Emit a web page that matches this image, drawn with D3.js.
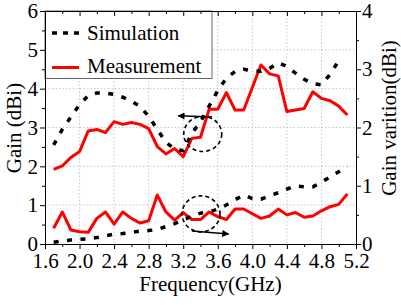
<!DOCTYPE html>
<html><head><meta charset="utf-8">
<script src="https://cdn.jsdelivr.net/npm/d3@7"></script>
<style>
html,body{margin:0;padding:0;background:#fff;}
svg{display:block;font-family:"Liberation Serif","Times New Roman",serif;}
</style></head>
<body>
<svg id="chart" width="401" height="305"></svg>
<script>
// ---- data ----
const freq = [1.7,1.8,1.9,2.0,2.1,2.2,2.3,2.4,2.5,2.6,2.7,2.8,2.9,3.0,3.1,3.2,3.3,3.4,3.5,3.6,3.7,3.8,3.9,4.0,4.1,4.2,4.3,4.4,4.5,4.6,4.7,4.8,4.9,5.0,5.1];
const measGain = [1.92,2.01,2.23,2.38,2.91,2.95,2.87,3.15,3.08,3.13,3.08,2.97,2.51,2.32,2.46,2.25,2.72,2.75,3.47,3.47,3.90,3.45,3.45,4.03,4.61,4.38,4.33,3.41,3.45,3.49,3.92,3.75,3.69,3.55,3.32];
const simFreq = [1.7,1.8,1.9,2.0,2.1,2.2,2.3,2.4,2.5,2.6,2.7,2.8,2.9,3.0,3.1,3.2,3.3,3.4,3.5,3.6,3.7,3.8,3.9,4.0,4.1,4.2,4.3,4.4,4.5,4.6,4.7,4.8,4.9,5.0];
const simGain = [2.55,2.95,3.27,3.59,3.82,3.89,3.89,3.85,3.78,3.68,3.54,3.29,2.95,2.62,2.45,2.40,2.85,3.15,3.55,3.95,4.27,4.44,4.50,4.46,4.45,4.52,4.67,4.57,4.40,4.24,4.13,4.10,4.37,4.72];
const measVar = [0.27,0.55,0.24,0.21,0.20,0.44,0.55,0.34,0.55,0.44,0.36,0.40,0.84,0.55,0.41,0.54,0.42,0.42,0.55,0.47,0.42,0.60,0.60,0.52,0.44,0.48,0.60,0.50,0.54,0.46,0.48,0.57,0.64,0.68,0.86];
const simVar = [0.03,0.05,0.07,0.08,0.09,0.11,0.14,0.17,0.18,0.20,0.22,0.23,0.25,0.30,0.35,0.41,0.48,0.53,0.55,0.60,0.67,0.76,0.84,0.78,0.77,0.83,0.88,0.94,1.00,0.98,0.98,1.06,1.15,1.24,1.33];
const xTicks = [1.6,2.0,2.4,2.8,3.2,3.6,4.0,4.4,4.8,5.2];
const xMinor = [1.8,2.2,2.6,3.0,3.4,3.8,4.2,4.6,5.0];
const yLeftTicks = [0,1,2,3,4,5,6];
const yLeftMinor = [0.5,1.5,2.5,3.5,4.5,5.5];
const yRightTicks = [0,1,2,3,4];
const yRightMinor = [0.5,1.5,2.5,3.5];
const legendLabels = ["Simulation","Measurement"];

// ---- layout ----
const svg = d3.select("#chart");
const L = 45, R = 356, T = 11, B = 244;
const x = d3.scaleLinear().domain([1.6,5.2]).range([L,R]);
const yL = d3.scaleLinear().domain([0,6]).range([B,T]);
const yR = d3.scaleLinear().domain([0,4]).range([B,T]);
const FS = 21;

// grid
const grid = svg.append("g").attr("stroke","#c8c8c8").attr("stroke-width",1).attr("stroke-dasharray","1.5,2");
xTicks.slice(1,-1).forEach(v=>grid.append("line").attr("x1",x(v)).attr("x2",x(v)).attr("y1",T).attr("y2",B));
yLeftTicks.slice(1,-1).forEach(v=>grid.append("line").attr("x1",L).attr("x2",R).attr("y1",yL(v)).attr("y2",yL(v)));

// legend box
svg.append("rect").attr("x",L).attr("y",T).attr("width",167).attr("height",67.5)
  .attr("fill","#fff").attr("stroke","#666").attr("stroke-width",1);

// axes
function styleAxis(g){ g.selectAll("path").attr("stroke","#000"); g.selectAll("line").attr("stroke","#000");
  g.selectAll("text").attr("font-size",FS).attr("font-family",'"Liberation Serif","Times New Roman",serif').attr("fill","#000"); }
svg.append("g").attr("transform",`translate(0,${B})`)
  .call(d3.axisBottom(x).tickValues(xTicks).tickSize(5).tickPadding(4).tickFormat(d3.format(".1f")).tickSizeOuter(0)).call(styleAxis);
svg.append("g").attr("transform",`translate(0,${B})`)
  .call(d3.axisBottom(x).tickValues(xMinor).tickSize(3).tickFormat("").tickSizeOuter(0)).call(styleAxis);
svg.append("g").attr("transform",`translate(0,${T})`)
  .call(d3.axisBottom(x).tickValues(xTicks).tickSize(5).tickFormat("").tickSizeOuter(0)).call(styleAxis);
svg.append("g").attr("transform",`translate(0,${T})`)
  .call(d3.axisBottom(x).tickValues(xMinor).tickSize(3).tickFormat("").tickSizeOuter(0)).call(styleAxis);
svg.append("g").attr("transform",`translate(${L},0)`)
  .call(d3.axisLeft(yL).tickValues(yLeftTicks).tickSize(5).tickPadding(2).tickFormat(d3.format("d")).tickSizeOuter(0)).call(styleAxis);
svg.append("g").attr("transform",`translate(${L},0)`)
  .call(d3.axisLeft(yL).tickValues(yLeftMinor).tickSize(3).tickFormat("").tickSizeOuter(0)).call(styleAxis);
svg.append("g").attr("transform",`translate(${R},0)`)
  .call(d3.axisRight(yR).tickValues(yRightTicks).tickSize(5).tickPadding(1).tickFormat(d3.format("d")).tickSizeOuter(0)).call(styleAxis);
svg.append("g").attr("transform",`translate(${R},0)`)
  .call(d3.axisRight(yR).tickValues(yRightMinor).tickSize(3).tickFormat("").tickSizeOuter(0)).call(styleAxis);

// axis titles
svg.append("text").attr("x",(L+R)/2+10).attr("y",291).attr("text-anchor","middle").attr("font-size",FS).text("Frequency(GHz)");
svg.append("text").attr("transform","translate(21,128) rotate(-90)").attr("text-anchor","middle").attr("font-size",FS).text("Gain (dBi)");
svg.append("text").attr("transform","translate(396,118) rotate(-90)").attr("text-anchor","middle").attr("font-size",FS).text("Gain varition(dBi)");

// lines
const RED = "#ff0000";
const simDash = "5,8.5";
const lineL = d3.line().x(d=>x(d[0])).y(d=>yL(d[1]));
const lineR = d3.line().x(d=>x(d[0])).y(d=>yR(d[1]));
svg.append("path").datum(freq.map((f,i)=>[f,measGain[i]])).attr("d",lineL)
  .attr("fill","none").attr("stroke",RED).attr("stroke-width",3).attr("stroke-linejoin","round");
svg.append("path").datum(freq.map((f,i)=>[f,measVar[i]])).attr("d",lineR)
  .attr("fill","none").attr("stroke",RED).attr("stroke-width",3).attr("stroke-linejoin","round");
svg.append("path").datum(simFreq.map((f,i)=>[f,simGain[i]])).attr("d",lineL)
  .attr("fill","none").attr("stroke","#000").attr("stroke-width",3.5).attr("stroke-dasharray",simDash);
svg.append("path").datum(freq.map((f,i)=>[f,simVar[i]])).attr("d",lineR)
  .attr("fill","none").attr("stroke","#000").attr("stroke-width",3.5).attr("stroke-dasharray",simDash);

// annotations (in data space)
const defs = svg.append("defs");
defs.append("marker").attr("id","ah").attr("viewBox","0 0 10 10").attr("refX",9).attr("refY",5)
  .attr("markerWidth",9).attr("markerHeight",7).attr("markerUnits","userSpaceOnUse").attr("orient","auto")
  .append("path").attr("d","M0,0L10,5L0,10z").attr("fill","#000");
svg.append("ellipse").attr("cx",x(3.426)).attr("cy",yL(2.833)).attr("rx",19).attr("ry",17.5)
  .attr("fill","none").attr("stroke","#000").attr("stroke-width",1.6).attr("stroke-dasharray","4,3");
svg.append("ellipse").attr("cx",x(3.406)).attr("cy",yR(0.518)).attr("rx",19).attr("ry",18)
  .attr("fill","none").attr("stroke","#000").attr("stroke-width",1.6).attr("stroke-dasharray","4,3");
svg.append("line").attr("x1",x(3.536)).attr("y1",yL(3.27)).attr("x2",x(3.142)).attr("y2",yL(3.30))
  .attr("stroke","#000").attr("stroke-width",1.5).attr("marker-end","url(#ah)");
svg.append("line").attr("x1",x(3.30)).attr("y1",yR(0.223)).attr("x2",x(3.725)).attr("y2",yR(0.172))
  .attr("stroke","#000").attr("stroke-width",1.5).attr("marker-end","url(#ah)");

// legend entries
const lg = svg.append("g");
lg.append("line").attr("x1",52).attr("x2",80).attr("y1",33).attr("y2",33)
  .attr("stroke","#000").attr("stroke-width",3.5).attr("stroke-dasharray","5,6");
lg.append("text").attr("x",87).attr("y",39.5).attr("font-size",FS).text(legendLabels[0]);
lg.append("line").attr("x1",52).attr("x2",79).attr("y1",67.5).attr("y2",67.5)
  .attr("stroke",RED).attr("stroke-width",3);
lg.append("text").attr("x",87).attr("y",73).attr("font-size",FS).text(legendLabels[1]);
</script>
</body></html>
